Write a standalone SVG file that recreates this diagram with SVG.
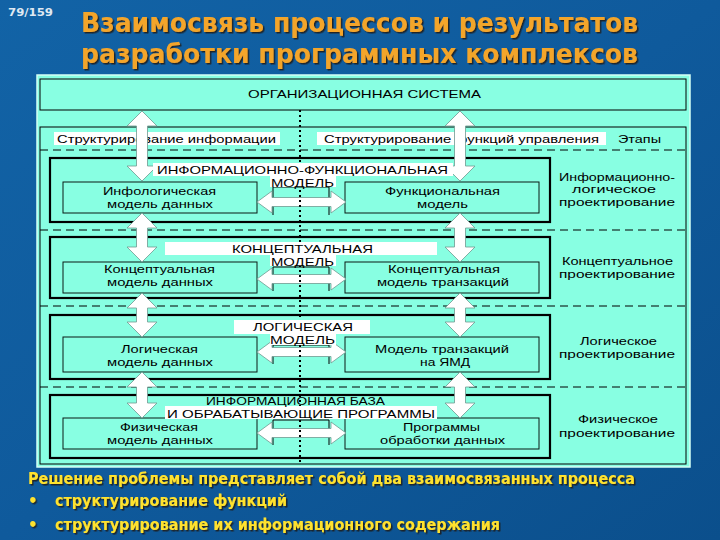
<svg xmlns="http://www.w3.org/2000/svg" width="720" height="540" viewBox="0 0 720 540">
<defs>
<linearGradient id="bg" x1="0" y1="0" x2="1" y2="1">
<stop offset="0" stop-color="#1263a6"/>
<stop offset="0.5" stop-color="#0f5a9c"/>
<stop offset="1" stop-color="#0b4f8c"/>
</linearGradient>
<filter id="sh" x="-5%" y="-20%" width="110%" height="150%">
<feDropShadow dx="1.5" dy="1.5" stdDeviation="0.6" flood-color="#1a1a1a" flood-opacity="0.9"/>
</filter>
<style>
.t{font-family:"Liberation Sans",Arial,sans-serif;font-size:11.5px;fill:#000}
.s{font-size:11px}
.box{fill:none;stroke:#000;stroke-width:1}
.cont{fill:none;stroke:#000;stroke-width:2.2}
.inner{fill:#88ffe2;stroke:#0a1a14;stroke-width:1}
.lbl{fill:#fff}
.arr{fill:#fff;stroke:#6f9990;stroke-width:0.8}
.dash{stroke:#000;stroke-width:1;stroke-dasharray:8 5;fill:none}
.dot{stroke:#000;stroke-width:2;stroke-dasharray:2 3;fill:none}
.tick{fill:none;stroke:#000;stroke-width:1}
.title{font-family:"DejaVu Sans","Liberation Sans",sans-serif;font-weight:bold;font-size:27px;fill:#f3a52c}
.foot{font-family:"DejaVu Sans","Liberation Sans",sans-serif;font-weight:bold;font-size:15px;fill:#ffe22e}
</style>
</defs>

<rect x="0" y="0" width="720" height="540" fill="url(#bg)"/>

<g id="header">
<text x="8" y="16" font-family="DejaVu Sans, sans-serif" font-weight="bold" font-size="10" fill="#dfe8f2" textLength="45" lengthAdjust="spacingAndGlyphs">79/159</text>
<g filter="url(#sh)">
<text class="title" x="81" y="32" textLength="557" lengthAdjust="spacingAndGlyphs">Взаимосвязь процессов и результатов</text>
<text class="title" x="81" y="63" textLength="557" lengthAdjust="spacingAndGlyphs">разработки программных комплексов</text>
</g>
</g>

<g id="panel">
<rect x="37" y="75" width="653" height="392" fill="#88ffe2" stroke="#d4fff5" stroke-width="1.5"/>
</g>

<g id="org-system">
<rect class="box" x="40" y="79" width="646" height="31"/>
<text class="t" x="248" y="98" textLength="233" lengthAdjust="spacingAndGlyphs">ОРГАНИЗАЦИОННАЯ СИСТЕМА</text>
</g>

<g id="structure">
<rect class="box" x="40" y="127" width="646" height="337"/>
<rect class="lbl" x="54" y="132" width="226" height="13"/>
<rect class="lbl" x="317" y="132" width="289" height="13"/>
<text class="t" x="57" y="143" textLength="219" lengthAdjust="spacingAndGlyphs">Структурирование информации</text>
<text class="t" x="324" y="143" textLength="275" lengthAdjust="spacingAndGlyphs">Структурирование функций управления</text>
<text class="t" x="618" y="143" textLength="43" lengthAdjust="spacingAndGlyphs">Этапы</text>
<path class="dash" d="M40,150 H686 M40,230 H686 M40,306 H686 M40,387 H686"/>
</g>

<g id="band1">
<rect class="cont" x="50" y="158" width="500" height="64"/>
<rect class="inner" x="63" y="182" width="194" height="31"/>
<text class="t" x="103" y="195" textLength="113" lengthAdjust="spacingAndGlyphs">Инфологическая</text>
<text class="t" x="107" y="208" textLength="106" lengthAdjust="spacingAndGlyphs">модель данных</text>
<rect class="inner" x="345" y="182" width="194" height="31"/>
<text class="t" x="385" y="195" textLength="115" lengthAdjust="spacingAndGlyphs">Функциональная</text>
<text class="t" x="417" y="208" textLength="51" lengthAdjust="spacingAndGlyphs">модель</text>
</g>

<g id="band2">
<rect class="cont" x="50" y="237" width="500" height="61"/>
<rect class="inner" x="63" y="262" width="194" height="31"/>
<text class="t" x="104" y="273" textLength="111" lengthAdjust="spacingAndGlyphs">Концептуальная</text>
<text class="t" x="107" y="286" textLength="106" lengthAdjust="spacingAndGlyphs">модель данных</text>
<rect class="inner" x="345" y="262" width="194" height="31"/>
<text class="t" x="388" y="273" textLength="112" lengthAdjust="spacingAndGlyphs">Концептуальная</text>
<text class="t" x="377" y="286" textLength="132" lengthAdjust="spacingAndGlyphs">модель транзакций</text>
</g>

<g id="band3">
<rect class="cont" x="50" y="315" width="500" height="64"/>
<rect class="inner" x="63" y="337" width="194" height="35"/>
<text class="t" x="121" y="353" textLength="77" lengthAdjust="spacingAndGlyphs">Логическая</text>
<text class="t" x="107" y="366" textLength="106" lengthAdjust="spacingAndGlyphs">модель данных</text>
<rect class="inner" x="345" y="337" width="194" height="35"/>
<text class="t" x="375" y="353" textLength="134" lengthAdjust="spacingAndGlyphs">Модель транзакций</text>
<text class="t" x="420" y="366" textLength="50" lengthAdjust="spacingAndGlyphs">на ЯМД</text>
</g>

<g id="band4">
<rect class="cont" x="50" y="395" width="500" height="63"/>
<rect class="inner" x="63" y="418" width="194" height="31"/>
<text class="t" x="120" y="431" textLength="78" lengthAdjust="spacingAndGlyphs">Физическая</text>
<text class="t" x="107" y="444" textLength="106" lengthAdjust="spacingAndGlyphs">модель данных</text>
<rect class="inner" x="345" y="418" width="194" height="31"/>
<text class="t" x="403" y="431" textLength="77" lengthAdjust="spacingAndGlyphs">Программы</text>
<text class="t" x="380" y="444" textLength="125" lengthAdjust="spacingAndGlyphs">обработки данных</text>
</g>

<g id="connectors">
<path class="tick" d="M273,215 V187 H329 V215 M273,291 V267 H329 V291 M273,364 V345 H329 V364 M273,445 V420 H329 V445"/>
<path class="arr" d="M257,202 L272,191 L272,197.5 L331,197.5 L331,191 L346,202 L331,213 L331,206.5 L272,206.5 L272,213 Z"/>
<path class="arr" d="M257,279 L272,268 L272,274.5 L331,274.5 L331,268 L346,279 L331,290 L331,283.5 L272,283.5 L272,290 Z"/>
<path class="arr" d="M257,352 L272,341 L272,347.5 L331,347.5 L331,341 L346,352 L331,363 L331,356.5 L272,356.5 L272,363 Z"/>
<path class="arr" d="M257,433 L272,422 L272,428.5 L331,428.5 L331,422 L346,433 L331,444 L331,437.5 L272,437.5 L272,444 Z"/>
<path class="arr" d="M142,111 L157,126 L147.5,126 L147.5,166 L157,166 L142,181 L127,166 L136.5,166 L136.5,126 L127,126 Z"/>
<path class="arr" d="M142,213 L157,228 L147.5,228 L147.5,247 L157,247 L142,262 L127,247 L136.5,247 L136.5,228 L127,228 Z"/>
<path class="arr" d="M142,293 L157,308 L147.5,308 L147.5,322 L157,322 L142,337 L127,322 L136.5,322 L136.5,308 L127,308 Z"/>
<path class="arr" d="M142,372 L157,387 L147.5,387 L147.5,403 L157,403 L142,418 L127,403 L136.5,403 L136.5,387 L127,387 Z"/>
<path class="arr" d="M460,111 L475,126 L465.5,126 L465.5,166 L475,166 L460,181 L445,166 L454.5,166 L454.5,126 L445,126 Z"/>
<path class="arr" d="M460,213 L475,228 L465.5,228 L465.5,247 L475,247 L460,262 L445,247 L454.5,247 L454.5,228 L445,228 Z"/>
<path class="arr" d="M460,293 L475,308 L465.5,308 L465.5,322 L475,322 L460,337 L445,322 L454.5,322 L454.5,308 L445,308 Z"/>
<path class="arr" d="M460,372 L475,387 L465.5,387 L465.5,403 L475,403 L460,418 L445,403 L454.5,403 L454.5,387 L445,387 Z"/>
<path class="dot" d="M300,110 V464"/>
</g>

<g id="band-titles">
<rect class="lbl" x="153" y="163" width="300" height="13"/>
<rect class="lbl" x="270" y="176" width="66" height="11"/>
<text class="t s" x="157" y="174" textLength="291" lengthAdjust="spacingAndGlyphs">ИНФОРМАЦИОННО-ФУНКЦИОНАЛЬНАЯ</text>
<text class="t s" x="271" y="187" textLength="63" lengthAdjust="spacingAndGlyphs">МОДЕЛЬ</text>
<rect class="lbl" x="165" y="242" width="272" height="13"/>
<rect class="lbl" x="270" y="255" width="66" height="11"/>
<text class="t s" x="232" y="253" textLength="141" lengthAdjust="spacingAndGlyphs">КОНЦЕПТУАЛЬНАЯ</text>
<text class="t s" x="271" y="266" textLength="63" lengthAdjust="spacingAndGlyphs">МОДЕЛЬ</text>
<rect class="lbl" x="234" y="320" width="136" height="14"/>
<rect class="lbl" x="270" y="334" width="66" height="11"/>
<text class="t s" x="253" y="331" textLength="100" lengthAdjust="spacingAndGlyphs">ЛОГИЧЕСКАЯ</text>
<text class="t s" x="270" y="344" textLength="65" lengthAdjust="spacingAndGlyphs">МОДЕЛЬ</text>
<rect class="lbl" x="165" y="406" width="272" height="13"/>
<text class="t s" x="206" y="405" textLength="179" lengthAdjust="spacingAndGlyphs">ИНФОРМАЦИОННАЯ БАЗА</text>
<text class="t s" x="167" y="418" textLength="268" lengthAdjust="spacingAndGlyphs">И ОБРАБАТЫВАЮЩИЕ ПРОГРАММЫ</text>
</g>

<g id="stages">
<text class="t" x="559" y="181" textLength="116" lengthAdjust="spacingAndGlyphs">Информационно-</text>
<text class="t" x="572" y="193" textLength="84" lengthAdjust="spacingAndGlyphs">логическое</text>
<text class="t" x="559" y="206" textLength="116" lengthAdjust="spacingAndGlyphs">проектирование</text>
<text class="t" x="562" y="265" textLength="111" lengthAdjust="spacingAndGlyphs">Концептуальное</text>
<text class="t" x="559" y="278" textLength="116" lengthAdjust="spacingAndGlyphs">проектирование</text>
<text class="t" x="580" y="345" textLength="77" lengthAdjust="spacingAndGlyphs">Логическое</text>
<text class="t" x="559" y="358" textLength="116" lengthAdjust="spacingAndGlyphs">проектирование</text>
<text class="t" x="578" y="423" textLength="80" lengthAdjust="spacingAndGlyphs">Физическое</text>
<text class="t" x="559" y="437" textLength="116" lengthAdjust="spacingAndGlyphs">проектирование</text>
</g>

<g id="footer" filter="url(#sh)">
<text class="foot" x="28" y="484" textLength="607" lengthAdjust="spacingAndGlyphs">Решение проблемы представляет собой два взаимосвязанных процесса</text>
<text class="foot" x="28" y="506">•</text>
<text class="foot" x="55" y="506" textLength="232" lengthAdjust="spacingAndGlyphs">структурирование функций</text>
<text class="foot" x="28" y="530">•</text>
<text class="foot" x="55" y="530" textLength="445" lengthAdjust="spacingAndGlyphs">структурирование их информационного содержания</text>
</g>
</svg>
